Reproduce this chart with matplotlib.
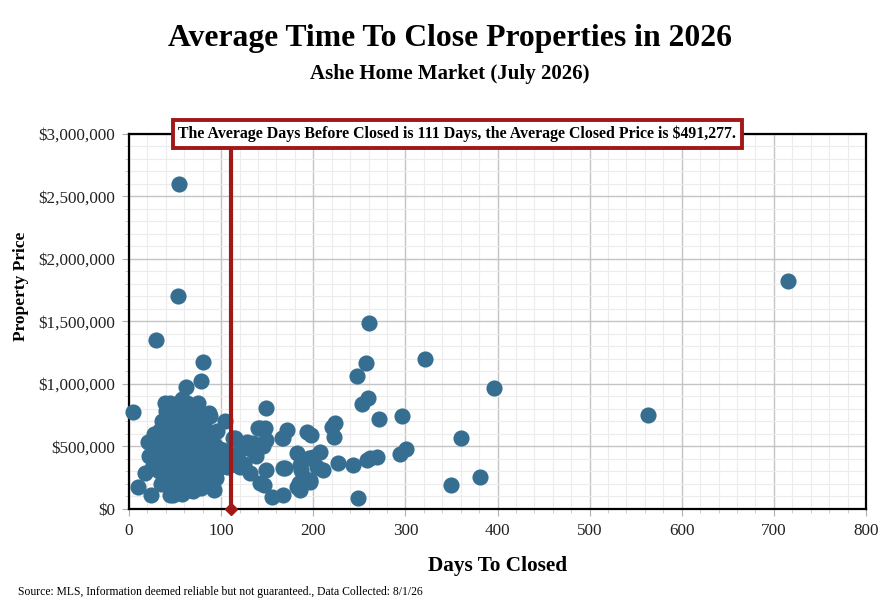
import matplotlib.pyplot as plt
from matplotlib.ticker import MultipleLocator, FuncFormatter

plt.rcParams['font.family'] = ['Liberation Serif', 'DejaVu Serif']

# days on market before closing / closed price ($)
days = [54, 53, 715, 29, 260, 321, 257, 396, 247, 259, 253, 296, 271, 563, 360,
        381, 349, 249, 301, 294, 269, 262, 224, 222, 220, 193, 198, 227, 243, 258,
        207, 211, 200, 196, 186, 182, 189, 80, 78, 62, 4, 149, 104, 140, 148,
        171, 167, 113, 128, 97, 182, 167, 187, 149, 142, 155, 167, 131, 117, 106,
        120, 10, 17, 24, 48, 63, 84, 26, 34, 39, 55, 63, 87,
        142, 115, 135, 149, 166, 195, 102, 104, 120, 169, 186, 204, 146, 184, 196,
        110, 100, 125, 138, 145, 133,
        28, 30, 32, 33, 35, 36, 37, 38, 40, 41, 42, 43, 45, 46, 47, 48, 49, 50,
        51, 52, 53, 54, 55, 56, 57, 58, 59, 60, 61, 62, 63, 64, 65, 66, 67, 68,
        69, 70, 71, 72, 73, 74, 75, 76, 77, 78, 79, 80, 82, 83, 84, 85, 86, 88,
        90, 92, 94, 96, 98, 78, 70, 44, 58, 88, 92, 35, 25, 22, 27, 66, 45, 75,
        58, 21, 66]
prices = [2600000, 1700000, 1820000, 1350000, 1490000, 1200000, 1170000, 965000,
          1065000, 890000, 840000, 745000, 717000, 752000, 570000, 254000, 192000,
          90000, 478000, 442000, 414000, 408000, 686000, 578000, 658000, 618000,
          592000, 368000, 352000, 392000, 458000, 312000, 418000, 218000, 152000,
          178000, 258000, 1175000, 1020000, 974000, 774000, 806000, 706000, 646000,
          646000, 632000, 566000, 566000, 538000, 486000, 446000, 326000, 312000,
          312000, 206000, 98000, 112000, 286000, 352000, 338000, 472000, 178000,
          286000, 112000, 112000, 166000, 192000, 526000, 632000, 846000, 858000,
          846000, 766000,
          646000, 566000, 526000, 552000, 566000, 406000, 472000, 352000, 338000,
          326000, 352000, 338000, 192000, 206000, 232000,
          400000, 380000, 360000, 420000, 500000, 470000,
          430000, 520000, 380000, 300000, 610000, 700000, 460000, 250000, 780000,
          540000, 350000, 180000, 640000, 420000, 280000, 720000, 500000, 150000,
          820000, 360000, 600000, 230000, 680000, 460000, 310000, 540000, 760000,
          400000, 190000, 620000, 300000, 480000, 700000, 250000, 560000, 380000,
          640000, 140000, 460000, 780000, 330000, 520000, 230000, 600000, 420000,
          720000, 280000, 500000, 360000, 650000, 440000, 560000, 300000, 740000,
          400000, 520000, 250000, 620000, 330000, 170000, 220000, 110000, 120000,
          200000, 150000, 200000, 330000, 420000, 600000, 830000, 850000, 850000,
          880000, 538000, 152000]

avg_days = 111
avg_price = 491277

dot_color = '#356e90'
red = '#a01818'

fig = plt.figure(figsize=(8.94, 6.03), dpi=100)
ax = fig.add_axes([0.1443, 0.1559, 0.8244, 0.6219])

ax.scatter(days, prices, s=135, color=dot_color, linewidths=0, zorder=3, clip_on=False)

ax.set_xlim(0, 800)
ax.set_ylim(0, 3000000)
ax.xaxis.set_major_locator(MultipleLocator(100))
ax.xaxis.set_minor_locator(MultipleLocator(20))
ax.yaxis.set_major_locator(MultipleLocator(500000))
ax.yaxis.set_minor_locator(MultipleLocator(100000))
ax.yaxis.set_major_formatter(FuncFormatter(lambda v, p: '${:,.0f}'.format(v)))

ax.grid(which='major', color='#c4c4c4', linewidth=1.0, zorder=0)
ax.grid(which='minor', color='#ececec', linewidth=0.8, zorder=0)
ax.set_axisbelow(True)
for sp in ax.spines.values():
    sp.set_color('black')
    sp.set_linewidth(1.6)
ax.tick_params(which='major', length=5, color='#b0b0b0', labelsize=12.3,
               labelcolor='#222222', pad=5)
ax.tick_params(which='minor', length=3, color='#c8c8c8')

# average days marker line
ax.plot([avg_days, avg_days], [0, 2950000], color=red, linewidth=3, zorder=4)
ax.plot([avg_days], [0], marker='D', markersize=6, color=red, clip_on=False, zorder=5)

ax.text(0.4457, 1.0,
        'The Average Days Before Closed is {} Days, the Average Closed Price is ${:,}.'.format(avg_days, avg_price),
        transform=ax.transAxes, ha='center', va='center', fontsize=11.4, fontweight='bold',
        zorder=6,
        bbox=dict(boxstyle='square,pad=0.35', facecolor='white', edgecolor=red, linewidth=2.8))

ax.set_xlabel('Days To Closed', fontsize=15.3, fontweight='bold', labelpad=12)
ax.set_ylabel('Property Price', fontsize=12.5, fontweight='bold')
ax.yaxis.set_label_coords(-0.136, 0.595)

fig.text(0.503, 0.936, 'Average Time To Close Properties in 2026', ha='center', va='center',
         fontsize=22.8, fontweight='bold')
fig.text(0.503, 0.878, 'Ashe Home Market (July 2026)', ha='center', va='center',
         fontsize=15, fontweight='bold')
fig.text(0.02, 0.008, 'Source: MLS, Information deemed reliable but not guaranteed., Data Collected: 8/1/26',
         ha='left', va='bottom', fontsize=8.4)

fig.savefig('out.png', dpi=100)
